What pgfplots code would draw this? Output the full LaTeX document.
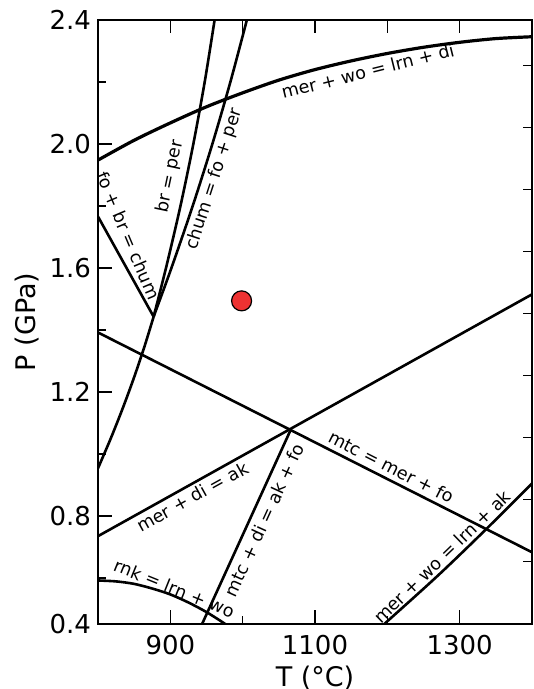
\documentclass[border=0pt]{standalone}
\usepackage{pgfplots}
\pgfplotsset{compat=1.18}
\usepackage{fontspec}
\setmainfont{DejaVu Sans}
\definecolor{ptred}{RGB}{238,50,50}
\newcommand{\lbl}{\fontsize{8.8}{10}\selectfont}
\begin{document}
\begin{tikzpicture}
\useasboundingbox (-49pt,-32.5pt) rectangle (218pt,312pt);
% top ticks (no labels)
\begin{axis}[
  at={(0,0)}, anchor=south west,
  scale only axis, width=217pt, height=302pt,
  xmin=800, xmax=1400, ymin=0.4516, ymax=2.4,
  axis line style={draw=none},
  xtick={900,1000,1100,1200,1300}, xticklabels={}, xtick pos=right,
  ytick=\empty,
  tick align=inside, major tick length=6.5pt,
  tick style={line width=0.8pt, black},
]
\end{axis}
% right ticks (no labels)
\begin{axis}[
  at={(0,0)}, anchor=south west,
  scale only axis, width=217pt, height=302pt,
  xmin=800, xmax=1400, ymin=0.4516, ymax=2.4,
  axis line style={draw=none},
  ytick={0.6526,0.8526,1.0526,1.2526,1.4526,1.6526,1.8526,2.0526,2.2526},
  yticklabels={}, ytick pos=right,
  xtick=\empty,
  tick align=inside, major tick length=4.5pt,
  tick style={line width=0.8pt, black},
]
\end{axis}
\begin{axis}[
  at={(0,0)}, anchor=south west,
  scale only axis, width=217pt, height=302pt,
  xmin=800, xmax=1400, ymin=0.4516, ymax=2.4,
  xtick={900,1100,1300}, minor xtick={1000,1200},
  xticklabels={900,1100,1300},
  ytick={0.4516,0.8,1.2,1.6,2.0,2.4},
  yticklabels={0.4,0.8,1.2,1.6,2.0,2.4},
  minor ytick={0.6,1.0,1.4,1.8,2.2},
  xtick pos=left, ytick pos=left,
  tick align=inside,
  major tick length=7pt, minor tick length=4pt,
  tick style={line width=0.8pt, black},
  axis line style={line width=0.8pt},
  tick label style={font=\fontsize{13}{15}\selectfont},
  xticklabel style={yshift=-2pt},
  xlabel={T (°C)}, ylabel={P (GPa)},
  label style={font=\fontsize{13.5}{16}\selectfont},
  xlabel style={at={(axis description cs:0.5,-0.1043)}, anchor=base},
  ylabel style={at={(axis description cs:-0.1636,0.5)}, anchor=center},
  cycle list={{black,solid,mark=none}},
  every axis plot/.append style={line width=1.3pt, black},
]
% mer + wo = lrn + di
\addplot[smooth, line width=1.6pt] coordinates {
  (800,1.948) (850,2.012) (900,2.068) (950,2.120) (1000,2.165) (1050,2.206)
  (1100,2.240) (1150,2.268) (1200,2.292) (1250,2.312) (1300,2.328)
  (1350,2.340) (1400,2.346)
};
% br = per
\addplot[smooth] coordinates {
  (876.9,1.443) (894.0,1.6) (914.0,1.8) (931.8,2.0) (947.5,2.2) (961.2,2.4)
};
% chum = fo + per
\addplot[smooth] coordinates {
  (876.9,1.443) (901.5,1.6) (930.9,1.8) (958.1,2.0) (983.0,2.2) (1005.8,2.4)
};
% lower branch from the invariant point
\addplot[smooth] coordinates {
  (800,0.954) (817.6,1.05) (834.6,1.15) (850.3,1.25) (864.7,1.35) (876.9,1.443)
};
% fo + br = chum
\addplot[black] coordinates {(800,1.766) (876.9,1.443)};
% mtc = mer + fo
\addplot[black] coordinates {(800,1.392) (1400,0.683)};
% mer + di = ak
\addplot[black] coordinates {(800,0.735) (1400,1.515)};
% mtc + di = ak + fo
\addplot[black] coordinates {(933.8,0.40) (1066.6,1.079)};
% rnk = lrn + wo
\addplot[smooth] coordinates {
  (800,0.592) (825,0.589) (850,0.581) (875,0.566) (900,0.547)
  (925,0.521) (950,0.490) (975,0.453) (990,0.428)
};
% mer + wo = lrn + ak
\addplot[smooth] coordinates {
  (1180,0.418) (1196,0.452) (1270,0.608) (1336.4,0.757) (1400,0.905)
};
% sample point
\addplot[only marks, mark=*, mark size=5pt,
  mark options={fill=ptred, draw=black, line width=0.6pt}]
  coordinates {(998.5,1.494)};

\node[rotate=14, font=\lbl] at (axis cs:1173,2.235) {mer + wo = lrn + di};
\node[rotate=78, font=\lbl] at (axis cs:900,1.894) {br = per};
\node[rotate=72, font=\lbl] at (axis cs:961,1.887) {chum = fo + per};
\node[rotate=-67, font=\lbl] at (axis cs:842,1.705) {fo + br = chum};
\node[rotate=-27, font=\lbl] at (axis cs:1205.6,0.959) {mtc = mer + fo};
\node[rotate=29, font=\lbl] at (axis cs:930.8,0.862) {mer + di = ak};
\node[rotate=65.5, font=\lbl] at (axis cs:1029.8,0.787) {mtc + di = ak + fo};
\node[rotate=-22, font=\lbl] at (axis cs:905.5,0.567) {rnk = lrn + wo};
\node[rotate=44, font=\lbl] at (axis cs:1275.7,0.669) {mer + wo = lrn + ak};
\end{axis}
\end{tikzpicture}
\end{document}
